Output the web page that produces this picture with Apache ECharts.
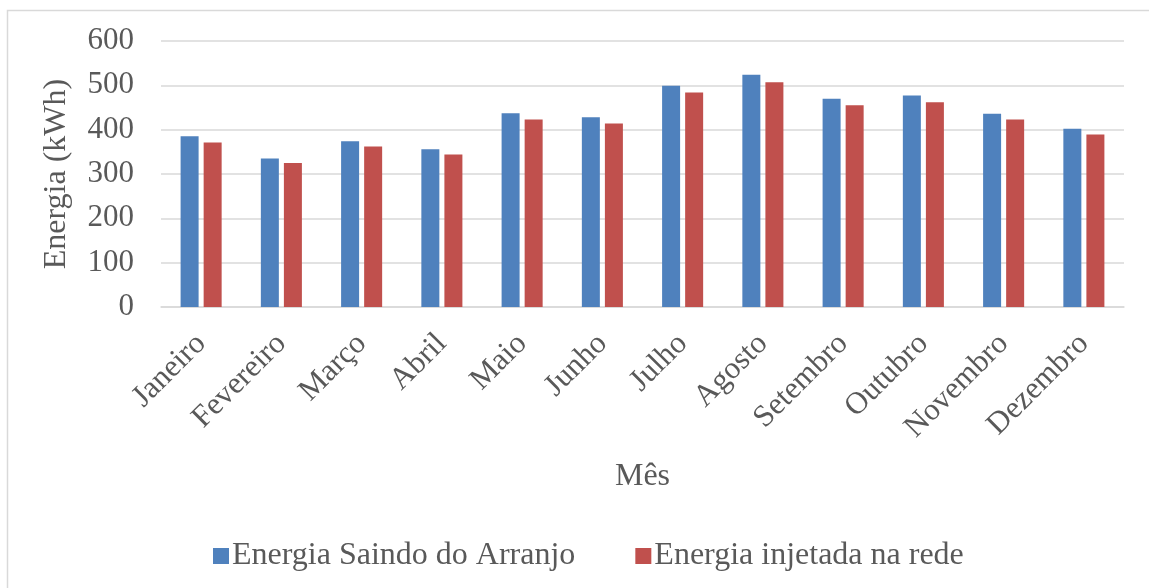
<!DOCTYPE html>
<html>
<head>
<meta charset="utf-8">
<script src="https://cdn.jsdelivr.net/npm/echarts@6/dist/echarts.min.js"></script>
<style>
  html, body { margin: 0; padding: 0; background: #ffffff; }
  #chart { width: 1149px; height: 588px; }
</style>
</head>
<body>
<div id="chart"></div>
<script>
// Monthly energy: output of the PV array vs energy injected into the grid
const months = ['Janeiro', 'Fevereiro', 'Março', 'Abril', 'Maio', 'Junho',
                'Julho', 'Agosto', 'Setembro', 'Outubro', 'Novembro', 'Dezembro'];
const energiaArranjo = [385, 335, 374, 356, 437, 428, 499, 524, 470, 477, 436, 402];
const energiaRede = [371, 325, 362, 344, 423, 414, 484, 507, 455, 462, 423, 389];
const seriesNames = ['Energia Saindo do Arranjo', 'Energia injetada na rede'];

const FONT = "'Liberation Serif', 'Times New Roman', serif";
const TEXT = '#595959';
const GRID = '#d9d9d9';

const chart = echarts.init(document.getElementById('chart'), null, { renderer: 'canvas' });

chart.setOption({
  animation: false,
  backgroundColor: '#ffffff',
  textStyle: { fontFamily: FONT, color: TEXT },
  graphic: [{
    type: 'rect',
    shape: { x: 7.5, y: 10.5, width: 1160, height: 600 },
    style: { fill: 'none', stroke: GRID, lineWidth: 1.5 },
    silent: true
  }],
  grid: { left: 161, right: 25, top: 41, bottom: 281, containLabel: false },
  legend: {
    left: 208,
    top: 535,
    itemWidth: 16,
    itemHeight: 16,
    itemGap: 60,
    icon: 'rect',
    textStyle: { fontFamily: FONT, fontSize: 32, color: TEXT, padding: [0, 0, 0, -2] },
    data: seriesNames
  },
  xAxis: {
    type: 'category',
    data: months,
    name: 'Mês',
    nameLocation: 'middle',
    nameGap: 154,
    nameTextStyle: { fontFamily: FONT, fontSize: 32, color: TEXT },
    axisLine: { show: true, lineStyle: { color: GRID, width: 1.5 } },
    axisTick: { show: false },
    axisLabel: {
      rotate: 45,
      interval: 0,
      margin: 32,
      fontFamily: FONT,
      fontSize: 31,
      color: TEXT
    }
  },
  yAxis: {
    type: 'value',
    min: 0,
    max: 600,
    interval: 100,
    name: 'Energia (kWh)',
    nameLocation: 'middle',
    nameGap: 88,
    nameTextStyle: { fontFamily: FONT, fontSize: 32, color: TEXT },
    axisLine: { show: false },
    axisTick: { show: false },
    axisLabel: { margin: 27, fontFamily: FONT, fontSize: 31, color: TEXT },
    splitLine: { lineStyle: { color: GRID, width: 1.5 } }
  },
  series: [
    {
      name: seriesNames[0],
      type: 'bar',
      data: energiaArranjo,
      barWidth: 18,
      barGap: '28%',
      itemStyle: { color: '#4F81BD' }
    },
    {
      name: seriesNames[1],
      type: 'bar',
      data: energiaRede,
      barWidth: 18,
      barGap: '28%',
      itemStyle: { color: '#C0504D' }
    }
  ]
});
</script>
</body>
</html>
